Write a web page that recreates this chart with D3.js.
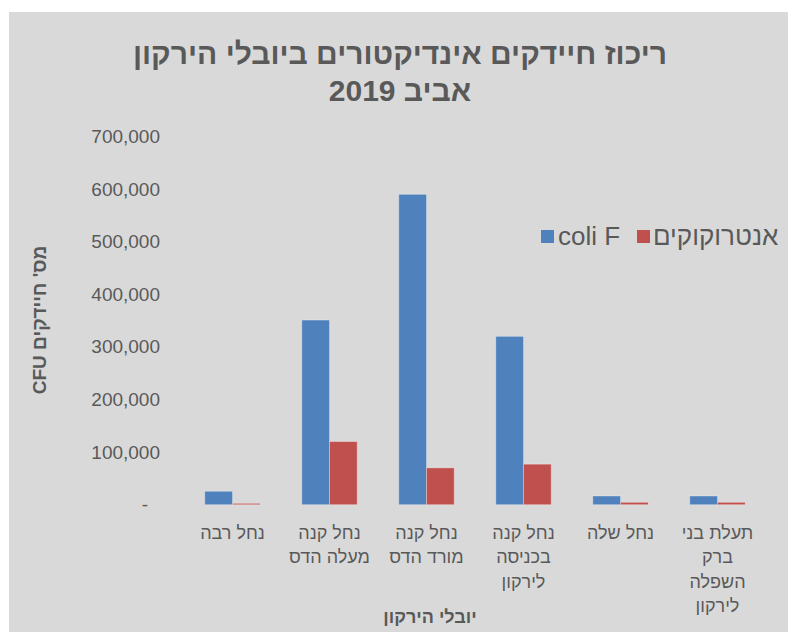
<!DOCTYPE html>
<html>
<head>
<meta charset="utf-8">
<script src="https://cdn.jsdelivr.net/npm/d3@7"></script>
<style>
  html, body { margin: 0; padding: 0; background: #ffffff; }
  svg { display: block; }
  text { font-family: "Liberation Sans", Arial, sans-serif; }
</style>
</head>
<body>
<svg id="chart" width="788" height="633"></svg>
<script>
// Tributaries of the Yarkon (categories, left to right), each split into label lines
const categories = [
  ["נחל רבה"],
  ["נחל קנה", "מעלה הדס"],
  ["נחל קנה", "מורד הדס"],
  ["נחל קנה", "בכניסה", "לירקון"],
  ["נחל שלה"],
  ["תעלת בני", "ברק", "השפלה", "לירקון"]
];
const seriesNames = ["coli F", "אנטרוקוקים"];
const seriesColors = ["#4F81BD", "#C0504D"];
// Bacteria counts (CFU) per tributary
const fColi = [25500, 351000, 590000, 320000, 16500, 16500];
const enterococci = [2500, 120000, 70000, 77000, 4500, 4500];
const yTicks = [0, 100000, 200000, 300000, 400000, 500000, 600000, 700000];
const titleLines = ["ריכוז חיידקים אינדיקטורים ביובלי הירקון", "אביב 2019"];
const xTitle = "יובלי הירקון";
const yTitle = "מס' חיידקים CFU";

const svg = d3.select("#chart");
const W = 788, H = 633;
const textColor = "#595959";

// Chart background
svg.append("rect")
  .attr("x", 9).attr("y", 12)
  .attr("width", W - 9).attr("height", 620)
  .attr("fill", "#D9D9D9");

const plot = { left: 184, right: 766, top: 136.5, bottom: 504.7 };

const catKeys = categories.map((c, i) => i);
const x0 = d3.scaleBand().domain(catKeys).range([plot.left, plot.right]).padding(0);
const x1 = d3.scaleBand().domain(d3.range(seriesNames.length))
  .range([0, x0.bandwidth()]).paddingInner(0).paddingOuter(0.75);
const y = d3.scaleLinear().domain([0, 700000]).range([plot.bottom, plot.top]);

// Title
const title = svg.append("text")
  .attr("text-anchor", "middle")
  .attr("direction", "rtl")
  .attr("font-weight", "bold")
  .attr("font-size", 30)
  .attr("fill", textColor);
title.selectAll("tspan").data(titleLines).join("tspan")
  .attr("x", 400)
  .attr("y", (d, i) => 64 + i * 37)
  .text(d => d);

// Y axis (labels only)
const yAxis = d3.axisLeft(y)
  .tickValues(yTicks)
  .tickSize(0)
  .tickPadding(24)
  .tickFormat(d => d === 0 ? "-" : d3.format(",")(d));
const yg = svg.append("g")
  .attr("transform", `translate(${plot.left},0)`)
  .call(yAxis);
yg.select(".domain").remove();
yg.selectAll("text")
  .attr("font-family", "\"Liberation Sans\", Arial, sans-serif")
  .attr("font-size", 19)
  .attr("fill", textColor)
  .attr("dx", d => d === 0 ? -12 : 0);

// Bars
const series = [fColi, enterococci];
const groups = svg.append("g").selectAll("g")
  .data(catKeys).join("g")
  .attr("transform", d => `translate(${x0(d)},0)`);
groups.selectAll("rect")
  .data(ci => series.map((vals, si) => ({ si, v: vals[ci] })))
  .join("rect")
  .attr("x", d => x1(d.si))
  .attr("y", d => y(d.v))
  .attr("width", x1.bandwidth())
  .attr("height", d => y(0) - y(d.v))
  .attr("fill", d => seriesColors[d.si])
  .attr("stroke", "rgba(255,255,255,0.3)")
  .attr("stroke-width", 1);

// Category labels
const catLabels = svg.append("g").selectAll("text")
  .data(categories).join("text")
  .attr("text-anchor", "middle")
  .attr("direction", "rtl")
  .attr("font-size", 18)
  .attr("fill", textColor);
catLabels.selectAll("tspan")
  .data((lines, ci) => lines.map(l => ({ l, ci })))
  .join("tspan")
  .attr("x", d => x0(d.ci) + x0.bandwidth() / 2)
  .attr("y", (d, i) => 539 + i * 24.3)
  .text(d => d.l);

// X axis title
svg.append("text")
  .attr("x", 430).attr("y", 623)
  .attr("text-anchor", "middle")
  .attr("direction", "rtl")
  .attr("font-weight", "bold")
  .attr("font-size", 18)
  .attr("fill", textColor)
  .text(xTitle);

// Y axis title
svg.append("text")
  .attr("transform", "translate(46,320) rotate(-90)")
  .attr("text-anchor", "middle")
  .attr("direction", "rtl")
  .attr("font-weight", "bold")
  .attr("font-size", 19)
  .attr("fill", textColor)
  .text(yTitle);

// Legend
const legend = svg.append("g");
const legendItems = [
  { name: seriesNames[0], color: seriesColors[0], sx: 541, tx: 558, dir: "ltr" },
  { name: seriesNames[1], color: seriesColors[1], sx: 637, tx: 653, dir: "rtl" }
];
legendItems.forEach(it => {
  legend.append("rect")
    .attr("x", it.sx).attr("y", 230)
    .attr("width", 13).attr("height", 13)
    .attr("fill", it.color);
  legend.append("text")
    .attr("x", it.tx)
    .attr("y", 245)
    .attr("direction", it.dir)
    .attr("text-anchor", it.dir === "rtl" ? "end" : "start")
    .attr("font-size", 26)
    .attr("fill", textColor)
    .text(it.name);
});
</script>
</body>
</html>
